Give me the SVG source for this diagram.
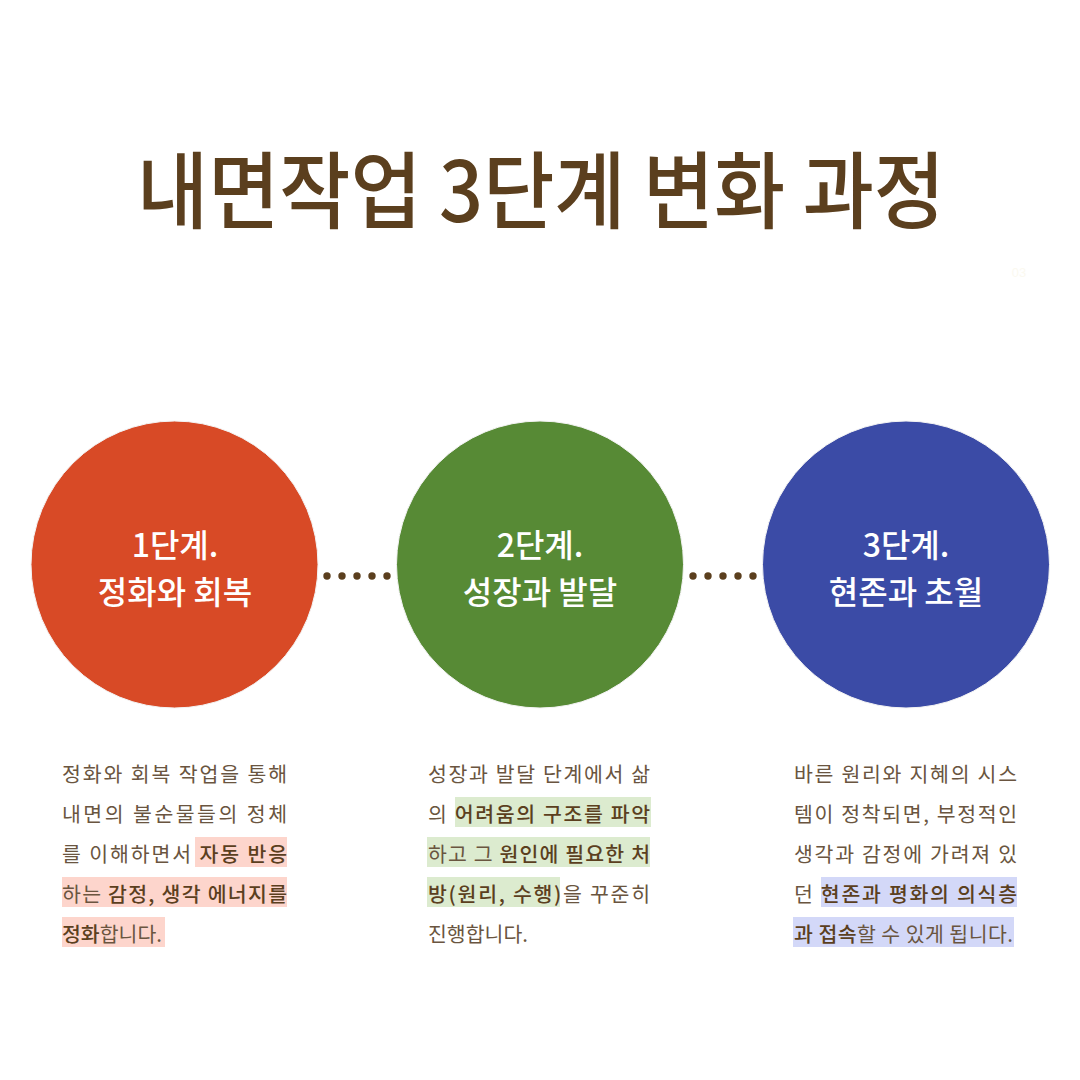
<svg xmlns="http://www.w3.org/2000/svg" width="1080" height="1080" viewBox="0 0 1080 1080">
<style>
.title{font-family:"Noto Sans CJK KR","Noto Sans",sans-serif;font-size:84px;font-weight:500;fill:#5B3F1E}
.clabel{font-family:"Noto Sans CJK KR","Noto Sans",sans-serif;font-size:32px;font-weight:500;fill:#ffffff;text-anchor:middle}
.body{font-family:"Noto Sans CJK KR","Noto Sans",sans-serif;font-size:20.5px;font-weight:400;fill:#6A5540}
.b{font-weight:500;fill:#5B3F1E}
.dot{fill:#5B3F1E}
.hl1{fill:#FDD5CC}
.hl2{fill:#DCEBCF}
.hl3{fill:#D3D8F8}
</style>
<rect width="1080" height="1080" fill="#ffffff"/>
<g id="title">
<text class="title" x="137" y="222" textLength="808" lengthAdjust="spacingAndGlyphs">내면작업 3단계 변화 과정</text>
</g>
<text x="1019" y="277" font-family="Liberation Sans, sans-serif" font-size="13" fill="#FBF9F0" text-anchor="middle">03</text>
<g id="connectors">
<circle class="dot" cx="327" cy="576" r="3.7"/>
<circle class="dot" cx="342" cy="576" r="3.7"/>
<circle class="dot" cx="357" cy="576" r="3.7"/>
<circle class="dot" cx="372" cy="576" r="3.7"/>
<circle class="dot" cx="387" cy="576" r="3.7"/>
<circle class="dot" cx="693" cy="576" r="3.7"/>
<circle class="dot" cx="708" cy="576" r="3.7"/>
<circle class="dot" cx="723" cy="576" r="3.7"/>
<circle class="dot" cx="738" cy="576" r="3.7"/>
<circle class="dot" cx="753" cy="576" r="3.7"/>
</g>
<g id="stage1">
<circle cx="174.5" cy="564.5" r="143.5" fill="#D84A26" stroke="#f3f3f3" stroke-width="1"/>
<text class="clabel" x="175" y="557">1단계.</text>
<text class="clabel" x="175" y="604">정화와 회복</text>
</g>
<g id="stage2">
<circle cx="540" cy="564.5" r="143.5" fill="#578A35" stroke="#f3f3f3" stroke-width="1"/>
<text class="clabel" x="540" y="557">2단계.</text>
<text class="clabel" x="540" y="604">성장과 발달</text>
</g>
<g id="stage3">
<circle cx="906" cy="564.5" r="143.5" fill="#3B4BA6" stroke="#f3f3f3" stroke-width="1"/>
<text class="clabel" x="906" y="557">3단계.</text>
<text class="clabel" x="906" y="604">현존과 초월</text>
</g>
<g id="desc1">
<rect class="hl1" x="195" y="837" width="92" height="30"/>
<rect class="hl1" x="62" y="877" width="225" height="30"/>
<rect class="hl1" x="62" y="917" width="103" height="30"/>
<text class="body" x="62" y="782" textLength="225" lengthAdjust="spacing">정화와 회복 작업을 통해</text>
<text class="body" x="62" y="822" textLength="225" lengthAdjust="spacing">내면의 불순물들의 정체</text>
<text class="body" x="62" y="862" textLength="225" lengthAdjust="spacing">를 이해하면서 <tspan class="b">자동 반응</tspan></text>
<text class="body" x="62" y="902" textLength="225" lengthAdjust="spacing">하는 <tspan class="b">감정, 생각 에너지를</tspan></text>
<text class="body" x="62" y="942"><tspan class="b">정화</tspan>합니다.</text>
</g>
<g id="desc2">
<rect class="hl2" x="455" y="797" width="196" height="30"/>
<rect class="hl2" x="427" y="837" width="223" height="30"/>
<rect class="hl2" x="427" y="877" width="133" height="30"/>
<text class="body" x="428" y="782" textLength="222" lengthAdjust="spacing">성장과 발달 단계에서 삶</text>
<text class="body" x="428" y="822" textLength="222" lengthAdjust="spacing">의 <tspan class="b">어려움의 구조를 파악</tspan></text>
<text class="body" x="428" y="862" textLength="222" lengthAdjust="spacing">하고 그 <tspan class="b">원인에 필요한 처</tspan></text>
<text class="body" x="428" y="902" textLength="222" lengthAdjust="spacing"><tspan class="b">방(원리, 수행)</tspan>을 꾸준히</text>
<text class="body" x="428" y="942">진행합니다.</text>
</g>
<g id="desc3">
<rect class="hl3" x="821" y="877" width="196" height="30"/>
<rect class="hl3" x="793" y="917" width="221" height="30"/>
<text class="body" x="794" y="782" textLength="223" lengthAdjust="spacing">바른 원리와 지혜의 시스</text>
<text class="body" x="794" y="822" textLength="223" lengthAdjust="spacing">템이 정착되면, 부정적인</text>
<text class="body" x="794" y="862" textLength="223" lengthAdjust="spacing">생각과 감정에 가려져 있</text>
<text class="body" x="794" y="902" textLength="223" lengthAdjust="spacing">던 <tspan class="b">현존과 평화의 의식층</tspan></text>
<text class="body" x="794" y="942" textLength="219" lengthAdjust="spacing"><tspan class="b">과 접속</tspan>할 수 있게 됩니다.</text>
</g>
</svg>
